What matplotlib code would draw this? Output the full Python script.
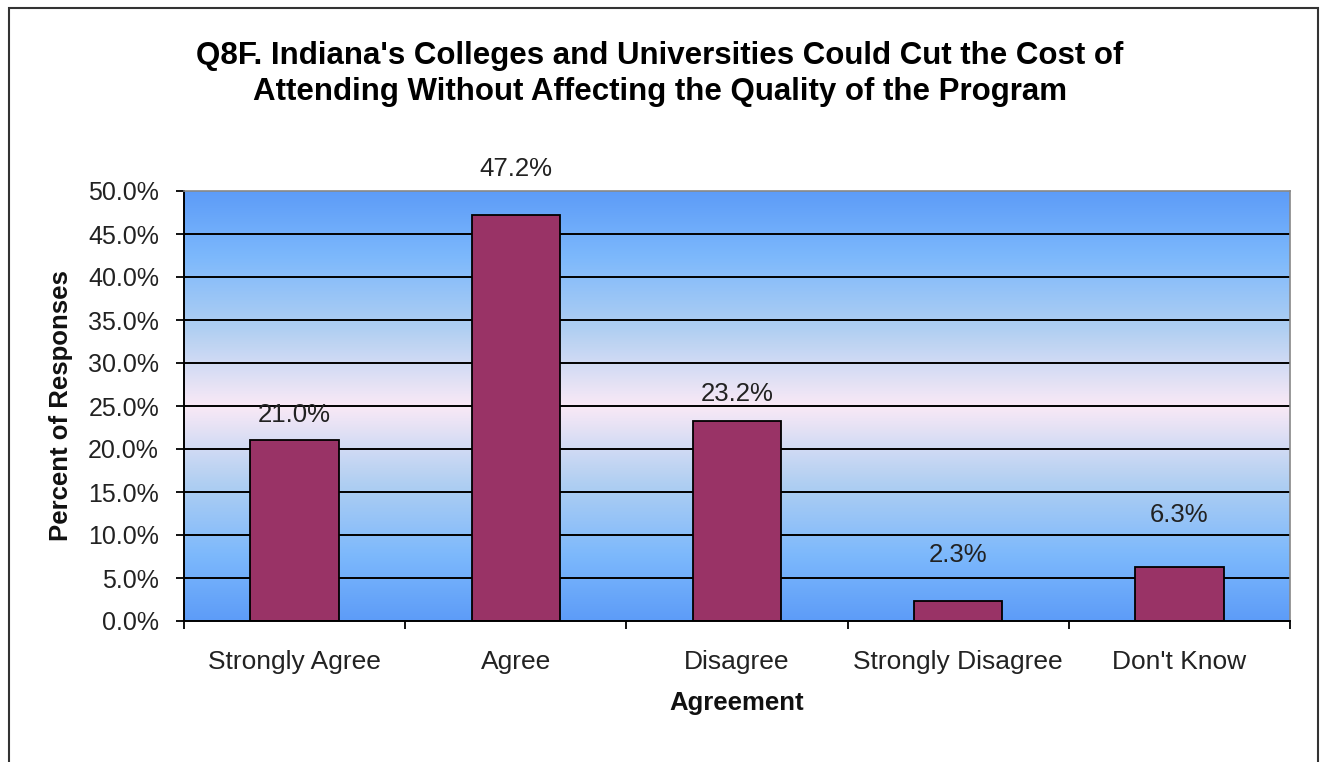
import matplotlib
matplotlib.use("Agg")
import matplotlib.pyplot as plt
import numpy as np
from matplotlib.colors import LinearSegmentedColormap
from matplotlib.patches import Rectangle

categories = ["Strongly Agree", "Agree", "Disagree", "Strongly Disagree", "Don't Know"]
values = [21.0, 47.2, 23.2, 2.3, 6.3]
yticks = [0, 5, 10, 15, 20, 25, 30, 35, 40, 45, 50]

plt.rcParams["font.family"] = ["Liberation Sans", "DejaVu Sans"]

fig = plt.figure(figsize=(13.2, 7.62), dpi=100)
# outer chart border
fig.patches.append(Rectangle((9 / 1320, -0.05), 1309 / 1320, 0.05 + 754 / 762,
                             transform=fig.transFigure, fill=False,
                             edgecolor="#333333", linewidth=1.5))

ax = fig.add_axes([184 / 1320, 141 / 762, 1106 / 1320, 430 / 762])
x = np.arange(len(categories))
ax.set_xlim(-0.5, len(categories) - 0.5)
ax.set_ylim(0, 50)

# gradient background: blue - pinkish white - blue
cmap = LinearSegmentedColormap.from_list("bg", [
    (0.0, "#5d9cf8"), (0.15, "#7cb8fc"), (0.32, "#b0cff2"),
    (0.5, "#fae9f6"), (0.68, "#b0cff2"), (0.85, "#7cb8fc"), (1.0, "#5d9cf8")])
grad = np.linspace(0, 1, 256).reshape(-1, 1)
ax.imshow(grad, aspect="auto", cmap=cmap, extent=(-0.5, len(categories) - 0.5, 0, 50),
          origin="lower", zorder=0)

for t in yticks[1:-1]:
    ax.axhline(t, color="black", linewidth=1.4, zorder=1)

ax.bar(x, values, width=0.4, color="#993366", edgecolor="black", linewidth=1.3, zorder=2)

label_pad = [25, 46, 27, 46, 52]
for xi, v, p in zip(x, values, label_pad):
    ax.annotate(f"{v:.1f}%", (xi, v), xytext=(0, p), textcoords="offset pixels",
                ha="center", va="center", fontsize=18.5, color="#222222")

ax.set_yticks(yticks)
ax.set_yticklabels([f"{t:.1f}%" for t in yticks], fontsize=18, color="#222222")
ax.set_xticks(np.arange(len(categories) + 1) - 0.5)
ax.set_xticklabels([])
ax.set_xticks(x, minor=True)
ax.set_xticklabels(categories, minor=True, fontsize=19, color="#222222")
ax.tick_params(axis="x", which="minor", length=0, pad=21)
ax.tick_params(axis="x", which="major", length=6, width=1.3, direction="out")
ax.tick_params(axis="y", length=6, width=1.3, direction="out", pad=12)

for s in ["left", "bottom"]:
    ax.spines[s].set_color("black")
    ax.spines[s].set_linewidth(1.4)
for s in ["top", "right"]:
    ax.spines[s].set_color("#888888")
    ax.spines[s].set_linewidth(1.2)

ax.set_xlabel("Agreement", fontsize=18.5, fontweight="bold", color="#111111", va="center")
ax.xaxis.set_label_coords(0.5, (621 - 703) / 430)
ax.set_ylabel("Percent of Responses", fontsize=18.5, fontweight="bold", color="#111111", va="center")
ax.yaxis.set_label_coords((61 - 184) / 1106, 0.5)

fig.text(0.5, 1 - 74 / 762,
         "Q8F. Indiana's Colleges and Universities Could Cut the Cost of\n"
         "Attending Without Affecting the Quality of the Program",
         ha="center", va="center", fontsize=22.5, fontweight="bold", linespacing=1.28)

fig.savefig("out.png", dpi=100)
